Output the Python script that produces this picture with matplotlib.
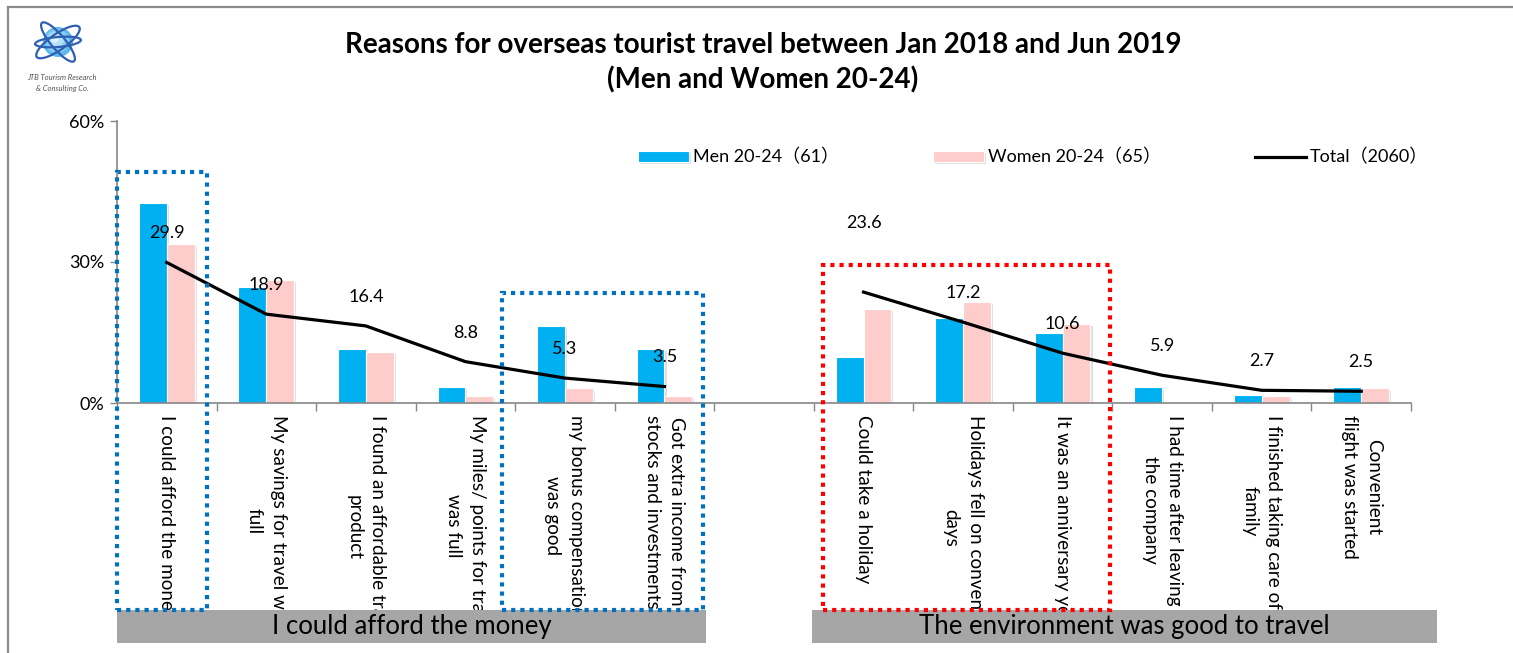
import numpy as np
import matplotlib
matplotlib.use('Agg')
import matplotlib.pyplot as plt
from matplotlib.patches import Rectangle, Circle, Ellipse
from matplotlib.lines import Line2D
import matplotlib.patheffects as pe

plt.rcParams['font.family'] = ['Lato', 'Noto Sans CJK JP', 'DejaVu Sans']

# Dữ liệu: 6 lý do "có tiền", 1 ô trống, 6 lý do "môi trường thuận lợi"
categories = [
    'I could afford the money',
    'My savings for travel was\nfull',
    'I found an affordable travel\nproduct',
    'My miles/ points for travel\nwas full',
    'my bonus compensation\nwas good',
    'Got extra income from\nstocks and investments',
    '',
    'Could take a holiday',
    'Holidays fell on convenient\ndays',
    'It was an anniversary year',
    'I had time after leaving\nthe company',
    'I finished taking care of\nfamily',
    'Convenient\nflight was started',
]
men = [42.6, 24.6, 11.5, 3.3, 16.4, 11.5, np.nan, 9.8, 18.0, 14.8, 3.3, 1.6, 3.3]
women = [33.8, 26.2, 10.8, 1.5, 3.1, 1.5, np.nan, 20.0, 21.5, 16.9, 0.0, 1.5, 3.1]
total = [29.9, 18.9, 16.4, 8.8, 5.3, 3.5, np.nan, 23.6, 17.2, 10.6, 5.9, 2.7, 2.5]

group_names = ['I could afford the money', 'The environment was good to travel']

men_label = 'Men 20-24（61）'
women_label = 'Women 20-24（65）'
total_label = 'Total（2060）'

W, H = 1513, 653
fig = plt.figure(figsize=(W / 100, H / 100), dpi=100)
ax = fig.add_axes([117 / W, 1 - 403 / H, 1294 / W, 282 / H])

n = len(categories)
centers = np.arange(n) + 0.5
bw = 0.28
shadow = [pe.SimplePatchShadow(offset=(1.5, -1.5), shadow_rgbFace='grey', alpha=0.25), pe.Normal()]

b1 = ax.bar(centers - bw, men, width=bw, align='edge', color='#00B0F0', edgecolor='white',
            linewidth=0.8, label=men_label, zorder=2, path_effects=shadow)
b2 = ax.bar(centers, women, width=bw, align='edge', color='#FFCCCC', edgecolor='white',
            linewidth=0.8, label=women_label, zorder=2, path_effects=shadow)
ln, = ax.plot(centers, total, color='black', linewidth=2.3, label=total_label, zorder=4)

# Nhãn giá trị của đường Total
for i, v in enumerate(total):
    if np.isnan(v):
        continue
    off = 14.7 if i == 7 else 6.2
    ax.text(centers[i], v + off, f'{v:.1f}', ha='center', va='center', fontsize=13, zorder=5)

ax.set_xlim(0, n)
ax.set_ylim(0, 60)
ax.set_yticks([0, 30, 60])
ax.set_yticklabels(['0%', '30%', '60%'], fontsize=13)
ax.set_xticks(np.arange(n + 1))
ax.set_xticklabels([])
ax.tick_params(axis='x', length=6, color='#868686', width=1)
ax.tick_params(axis='y', length=5, color='#868686', width=1, pad=4)
for s in ['top', 'right']:
    ax.spines[s].set_visible(False)
for s in ['left', 'bottom']:
    ax.spines[s].set_color('#868686')
    ax.spines[s].set_linewidth(1.2)

# Nhãn danh mục xoay dọc, cắt tại mép trên thanh xám
clip = Rectangle((0, -44.0), n + 1, 44.0, transform=ax.transData)
for i, lab in enumerate(categories):
    t = ax.text(centers[i], -2.5, lab, rotation=-90, ha='center', va='top', multialignment='center',
                fontsize=13.6, linespacing=1.5, clip_on=True, zorder=3)
    t.set_clip_path(clip)

# Thanh xám tên nhóm
for x0, x1, name in [(0.0, 5.92, group_names[0]), (6.98, 13.26, group_names[1])]:
    ax.add_patch(Rectangle((x0, -51.1), x1 - x0, 7.1, facecolor='#A6A6A6', edgecolor='none',
                           clip_on=False, zorder=6))
    ax.text((x0 + x1) / 2, -47.6, name, ha='center', va='center', fontsize=18.5, clip_on=False, zorder=7)

# Khung chấm
for x0, x1, top, col in [(0.0, 0.9, 49.1, '#0070C0'), (3.87, 5.89, 23.4, '#0070C0'),
                         (7.09, 9.98, 29.4, '#FF0000')]:
    ax.add_patch(Rectangle((x0, -44.0), x1 - x0, top + 44.0, fill=False, edgecolor=col,
                           linewidth=3, linestyle=(0, (1, 1.2)), clip_on=False, zorder=8))

ax.legend([b1, b2, ln], [men_label, women_label, total_label], loc='center',
          bbox_to_anchor=(0.708, 0.872), ncol=3, frameon=False, fontsize=13,
          handlelength=2.8, handleheight=0.6, handletextpad=0.25, columnspacing=5.2)

fig.text(763 / W, 1 - 45 / H, 'Reasons for overseas tourist travel between Jan 2018 and Jun 2019',
         ha='center', va='center', fontsize=20, fontweight='bold')
fig.text(763 / W, 1 - 80 / H, '(Men and Women 20-24)', ha='center', va='center',
         fontsize=20, fontweight='bold')

# Viền ngoài
fig.add_artist(Line2D([8 / W, 1], [1 - 7 / H, 1 - 7 / H], color='#8c8c8c', linewidth=1.6))
fig.add_artist(Line2D([8 / W, 8 / W], [0, 1 - 7 / H], color='#8c8c8c', linewidth=1.6))

# Logo
lg = fig.add_axes([28 / W, 1 - 70 / H, 60 / W, 55 / H])
lg.set_xlim(0, 60)
lg.set_ylim(0, 55)
lg.axis('off')
for r, c in [(15, '#5bb8ec'), (12, '#86cdf3'), (8, '#b5e1f8'), (4, '#dff2fc')]:
    lg.add_patch(Circle((30 - (15 - r) * 0.3, 28 + (15 - r) * 0.3), r, color=c, linewidth=0))
for ang, w, h in [(35, 52, 16), (-50, 50, 14), (5, 46, 10)]:
    lg.add_patch(Ellipse((30, 28), w, h, angle=ang, fill=False, edgecolor='#2f5fb3', linewidth=1.6))
fig.text(62 / W, 1 - 77 / H, 'JTB Tourism Research', ha='center', va='center', fontsize=5.5,
         style='italic', color='#555555')
fig.text(62 / W, 1 - 88 / H, '& Consulting Co.', ha='center', va='center', fontsize=5.5,
         style='italic', color='#555555')

fig.savefig('out.png', dpi=100)
